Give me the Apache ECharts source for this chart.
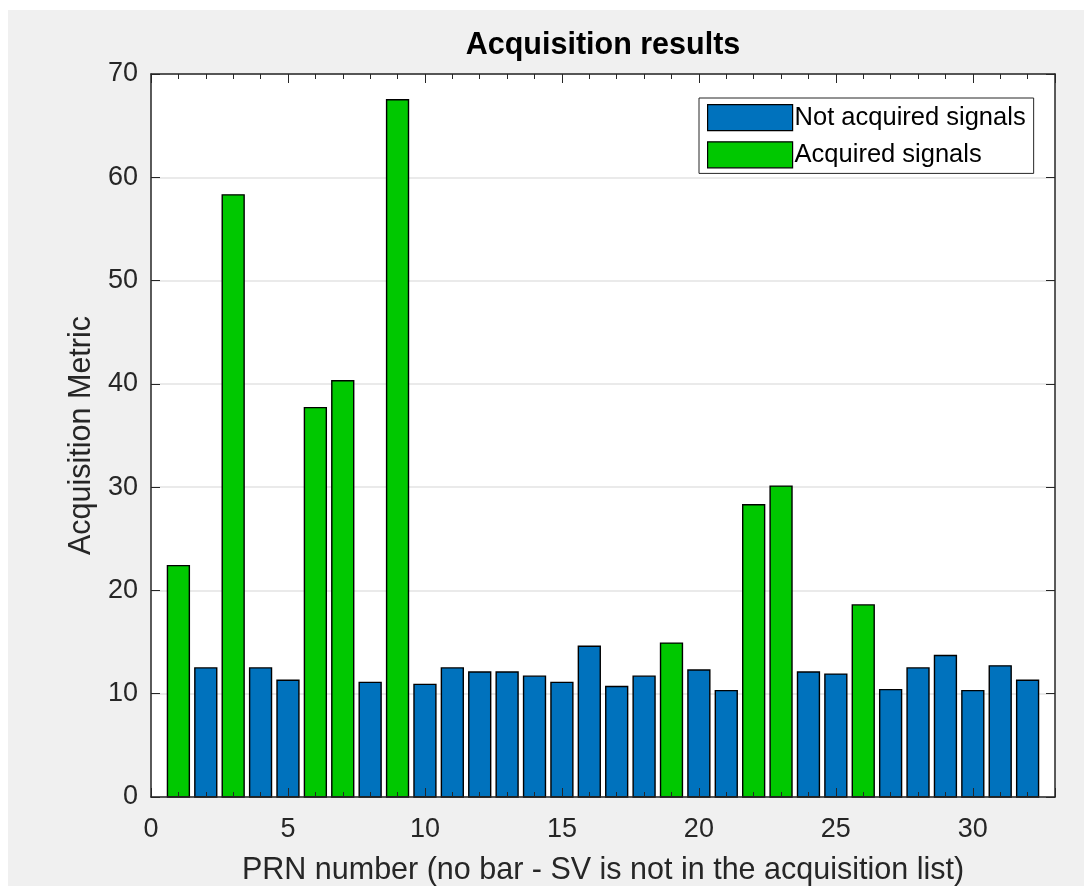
<!DOCTYPE html>
<html>
<head>
<meta charset="utf-8">
<script src="https://cdn.jsdelivr.net/npm/echarts@6/dist/echarts.min.js"></script>
<style>
  html, body { margin: 0; padding: 0; background: #ffffff; }
  #bg { position: absolute; left: 8px; top: 10px; width: 1076px; height: 876px; background: #f0f0f0; }
  #chart { position: absolute; left: 0; top: 0; width: 1085px; height: 886px; }
</style>
</head>
<body>
<div id="bg"></div>
<div id="chart"></div>
<script>
// ---- Data ----
const prnNumbers = [1,2,3,4,5,6,7,8,9,10,11,12,13,14,15,16,17,18,19,20,21,22,23,24,25,26,27,28,29,30,31,32];
const acquisitionMetric = [22.4,12.5,58.3,12.5,11.3,37.7,40.3,11.1,67.5,10.9,12.5,12.1,12.1,11.7,11.1,14.6,
                           10.7,11.7,14.9,12.3,10.3,28.3,30.1,12.1,11.9,18.6,10.4,12.5,13.7,10.3,12.7,11.3];
const acquiredPRNs = [1,3,6,7,9,19,22,23,26];
const seriesNames = ['Not acquired signals', 'Acquired signals'];
const xTickLabels = [0,5,10,15,20,25,30];
const yTickLabels = [0,10,20,30,40,50,60,70];

const notAcquiredData = [];
const acquiredData = [];
prnNumbers.forEach((p, i) => {
  if (acquiredPRNs.includes(p)) acquiredData.push([p, acquisitionMetric[i]]);
  else notAcquiredData.push([p, acquisitionMetric[i]]);
});

const FONT = "'Liberation Sans', Arial, Helvetica, sans-serif";
const AX = '#262626';
const BLUE = '#0072bd';
const GREEN = '#00c800';
const BAR_W = 0.8;
const X_MIN = 0, X_MAX = 33, Y_MIN = 0, Y_MAX = 70;

function renderBar(params, api) {
  const x = api.value(0), y = api.value(1);
  const p0 = api.coord([x - BAR_W / 2, y]);
  const p1 = api.coord([x + BAR_W / 2, 0]);
  return {
    type: 'rect',
    shape: { x: p0[0], y: p0[1], width: p1[0] - p0[0], height: p1[1] - p0[1] },
    style: api.style({ stroke: '#000', lineWidth: 1.4 })
  };
}

const chart = echarts.init(document.getElementById('chart'), null, { renderer: 'canvas' });
const majorTick = { show: true, inside: true, length: 9, lineStyle: { color: AX, width: 1 } };
const minorTickX = { show: true, splitNumber: 5, length: 5, lineStyle: { color: AX, width: 1 } };
const lineStyleAx = { show: true, onZero: false, lineStyle: { color: AX, width: 1.5 } };
const AXIS_Z = 10;

chart.setOption({
  backgroundColor: 'transparent',
  animation: false,
  textStyle: { fontFamily: FONT },
  title: {
    text: 'Acquisition results',
    left: 603, top: 30, textAlign: 'center', padding: 0,
    textStyle: { fontFamily: FONT, fontSize: 30.5, fontWeight: 'bold', color: '#000' }
  },
  legend: {
    orient: 'vertical',
    left: 699, top: 98, z: 20,
    padding: [6, 8, 5, 8],
    itemWidth: 85, itemHeight: 26, itemGap: 10,
    backgroundColor: '#fff',
    borderColor: AX, borderWidth: 1, borderRadius: 0,
    textStyle: { fontFamily: FONT, fontSize: 25.5, color: '#000', padding: [2, 0, 0, -3] },
    data: [
      { name: seriesNames[0], icon: 'rect', itemStyle: { color: BLUE, borderColor: '#000', borderWidth: 1.2 } },
      { name: seriesNames[1], icon: 'rect', itemStyle: { color: GREEN, borderColor: '#000', borderWidth: 1.2 } }
    ]
  },
  grid: { left: 151, right: 30, top: 74, bottom: 89, containLabel: false, outerBoundsMode: 'none',
          show: true, backgroundColor: '#ffffff', borderWidth: 0 },
  xAxis: [
    {
      type: 'value', min: X_MIN, max: X_MAX, interval: 5, position: 'bottom', offset: 0, z: AXIS_Z,
      name: 'PRN number (no bar - SV is not in the acquisition list)',
      nameLocation: 'middle', nameGap: 58,
      nameTextStyle: { fontFamily: FONT, fontSize: 30.5, color: AX },
      axisLine: lineStyleAx,
      axisTick: majorTick, minorTick: minorTickX,
      axisLabel: { fontFamily: FONT, fontSize: 27, color: AX, margin: 19,
        formatter: v => (xTickLabels.includes(v) ? String(v) : '') },
      splitLine: { show: false }, minorSplitLine: { show: false }
    },
    {
      type: 'value', min: X_MIN, max: X_MAX, interval: 5, position: 'top', offset: 0, z: AXIS_Z,
      axisLine: lineStyleAx,
      axisTick: majorTick, minorTick: minorTickX,
      axisLabel: { show: false }, splitLine: { show: false }, minorSplitLine: { show: false }
    }
  ],
  yAxis: [
    {
      type: 'value', min: Y_MIN, max: Y_MAX, interval: 10, position: 'left', offset: 0,
      name: 'Acquisition Metric', nameLocation: 'middle', nameGap: 54,
      nameTextStyle: { fontFamily: FONT, fontSize: 30.5, color: AX },
      axisLine: lineStyleAx,
      axisTick: majorTick,
      axisLabel: { fontFamily: FONT, fontSize: 27, color: AX, margin: 13,
        formatter: v => (yTickLabels.includes(v) ? String(v) : '') },
      splitLine: { show: true, lineStyle: { color: '#e3e3e3', width: 1.5 } }
    },
    {
      type: 'value', min: Y_MIN, max: Y_MAX, interval: 10, position: 'right', offset: 0, z: AXIS_Z,
      axisLine: lineStyleAx,
      axisTick: majorTick,
      axisLabel: { show: false }, splitLine: { show: false }
    }
  ],
  series: [
    {
      name: seriesNames[0], type: 'custom', xAxisIndex: 0, yAxisIndex: 0,
      itemStyle: { color: BLUE },
      encode: { x: 0, y: 1 },
      renderItem: renderBar,
      data: notAcquiredData
    },
    {
      name: seriesNames[1], type: 'custom', xAxisIndex: 0, yAxisIndex: 0,
      itemStyle: { color: GREEN },
      encode: { x: 0, y: 1 },
      renderItem: renderBar,
      data: acquiredData
    }
  ]
});
</script>
</body>
</html>
